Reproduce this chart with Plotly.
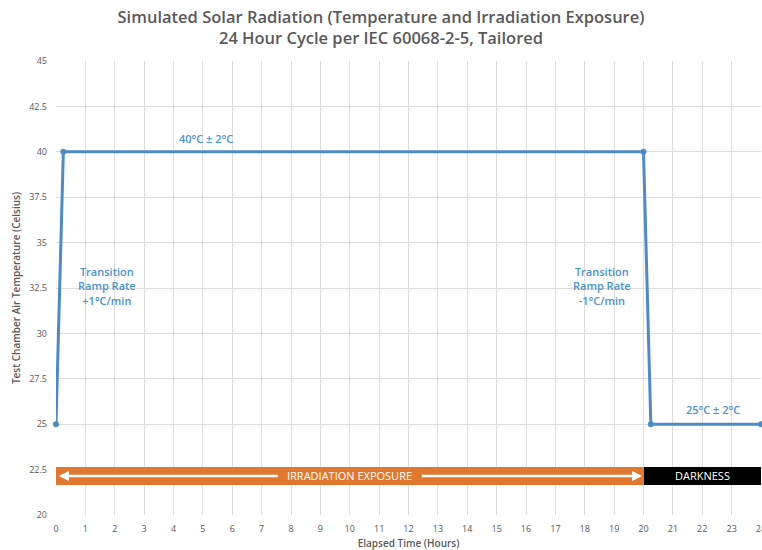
import plotly.graph_objects as go

# Temperature profile
time_h = [0, 0.25, 20, 20.25, 24]
temp_c = [25, 40, 40, 25, 25]

# Exposure phases
phase_names = ["IRRADIATION EXPOSURE", "DARKNESS"]
phase_start = [0, 20]
phase_end = [20, 24]
phase_level = 22.15
phase_colors = ["#E0782F", "#000000"]

x_ticks = list(range(0, 25))
y_ticks = [20, 22.5, 25, 27.5, 30, 32.5, 35, 37.5, 40, 42.5, 45]

# Annotation texts
label_hot = "40°C ± 2°C"
label_cold = "25°C ± 2°C"
label_up = "Transition<br>Ramp Rate<br>+1°C/min"
label_down = "Transition<br>Ramp Rate<br>-1°C/min"

FONT = "Open Sans"
BLUE = "#4F8AC4"
TXT_BLUE = "#4A93C9"
GREY = "#595959"

fig = go.Figure()

# Phase bars
fig.add_trace(go.Bar(
    orientation="h",
    y=[phase_level, phase_level],
    base=phase_start,
    x=[e - s for s, e in zip(phase_start, phase_end)],
    width=1.0,
    marker=dict(color=phase_colors, line=dict(width=0)),
    hoverinfo="skip",
    showlegend=False,
))

# Temperature line
fig.add_trace(go.Scatter(
    x=time_h, y=temp_c, mode="lines+markers",
    line=dict(color=BLUE, width=3),
    marker=dict(color=BLUE, size=6),
    showlegend=False,
    cliponaxis=False,
))

afont = dict(color=TXT_BLUE, size=11, family=FONT, weight=600)
wfont = dict(color="white", size=11, family=FONT)
ann = []
mid = (phase_start[0] + phase_end[0]) / 2
mid2 = (phase_start[1] + phase_end[1]) / 2
ann.append(dict(x=mid, y=phase_level, text=phase_names[0], showarrow=False, font=wfont))
ann.append(dict(x=mid2, y=phase_level, text=phase_names[1], showarrow=False, font=wfont))
# double-ended arrow around irradiation label
ann.append(dict(x=phase_start[0] + 0.1, y=phase_level, ax=mid - 2.4, ay=phase_level,
                axref="x", ayref="y", xref="x", yref="y", text="", showarrow=True,
                arrowhead=2, arrowsize=0.8, arrowwidth=2.5, arrowcolor="white"))
ann.append(dict(x=phase_end[0] - 0.05, y=phase_level, ax=mid + 2.4, ay=phase_level,
                axref="x", ayref="y", xref="x", yref="y", text="", showarrow=True,
                arrowhead=2, arrowsize=0.8, arrowwidth=2.5, arrowcolor="white"))

ann.append(dict(x=5.1, y=40.75, text=label_hot, showarrow=False, font=afont))
ann.append(dict(x=22.35, y=25.8, text=label_cold, showarrow=False, font=afont))
ann.append(dict(x=1.75, y=32.6, text=label_up, showarrow=False, font=afont))
ann.append(dict(x=18.6, y=32.6, text=label_down, showarrow=False, font=afont))

fig.update_layout(
    width=762, height=550,
    margin=dict(l=56, r=1, t=61, b=35, autoexpand=False),
    paper_bgcolor="white", plot_bgcolor="white",
    title=dict(
        text="Simulated Solar Radiation (Temperature and Irradiation Exposure)<br>24 Hour Cycle per IEC 60068-2-5, Tailored",
        x=0.5, xref="container", xanchor="center",
        y=1 - 23 / 550, yref="container", yanchor="middle",
        font=dict(family=FONT, size=16.5, color=GREY, weight=600),
    ),
    annotations=ann,
    bargap=0,
    font=dict(family=FONT),
)
fig.update_xaxes(
    range=[0, 24], tickmode="array", tickvals=x_ticks, automargin=False,
    showgrid=True, gridcolor="#DDDDDD", gridwidth=1,
    zeroline=False, showline=False,
    tickfont=dict(size=9, color=GREY, family=FONT),
    ticklabeloverflow="allow",
    title=dict(text="Elapsed Time (Hours)", font=dict(size=10, color=GREY, family=FONT, weight=600), standoff=9),
    ticks="", ticklabelstandoff=7,
)
fig.update_yaxes(
    range=[20, 45], tickmode="array", tickvals=y_ticks, automargin=False,
    showgrid=True, gridcolor="#DDDDDD", gridwidth=1,
    zeroline=False, showline=False,
    tickfont=dict(size=9, color=GREY, family=FONT),
    title=dict(text="Test Chamber Air Temperature (Celsius)", font=dict(size=10, color=GREY, family=FONT, weight=600), standoff=6),
    ticks="", ticklabelstandoff=8,
)

fig.write_html("out.html", config={"displayModeBar": False},
               post_script="document.body.style.margin='0';document.body.style.overflow='hidden';")
